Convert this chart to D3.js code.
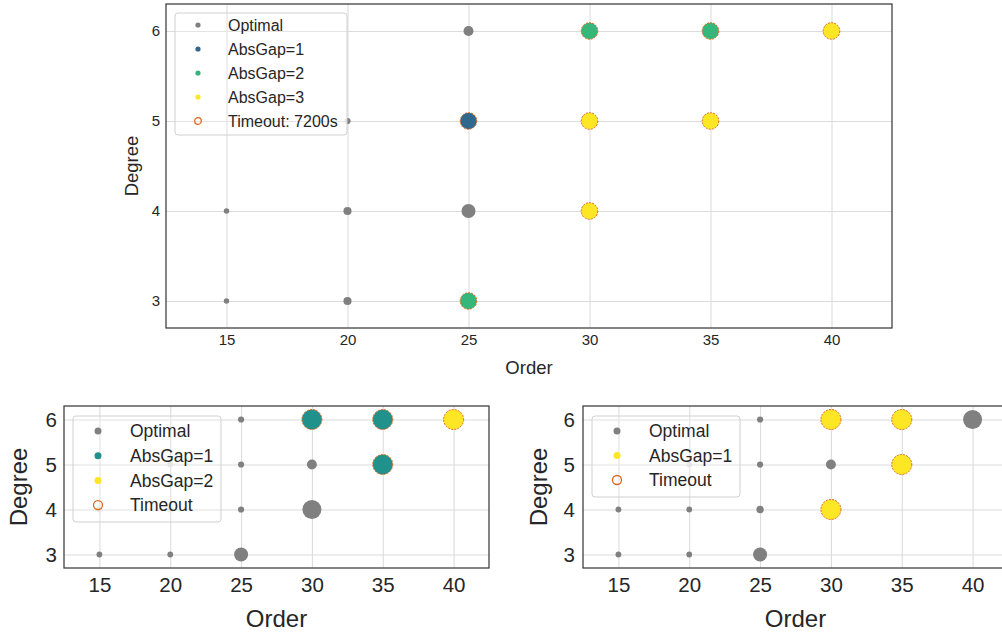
<!DOCTYPE html>
<html>
<head>
<meta charset="utf-8">
<script src="https://cdn.jsdelivr.net/npm/d3@7"></script>
<style>
  body { margin: 0; background: #fff; }
  svg { display: block; font-family: "Liberation Sans", Arial, sans-serif; }
</style>
</head>
<body>
<script>
// shared tick values
var orders = [15, 20, 25, 30, 35, 40];
var degrees = [3, 4, 5, 6];

// status: 0 = Optimal, k = AbsGap=k ; timeout: 1 = hit the time limit
// time is the solve time in seconds

// top chart
var topOrder   = [15, 15, 20, 20, 20, 25, 25, 25, 25, 30, 30, 30, 35, 35, 40];
var topDegree  = [3, 4, 3, 4, 5, 3, 4, 5, 6, 4, 5, 6, 5, 6, 6];
var topTime    = [5, 5, 480, 480, 60, 7200, 4300, 7200, 1300, 7200, 7200, 7200, 7200, 7200, 7200];
var topStatus  = [0, 0, 0, 0, 0, 2, 0, 1, 0, 3, 3, 2, 3, 2, 3];
var topTimeout = [0, 0, 0, 0, 0, 1, 0, 1, 0, 1, 1, 1, 1, 1, 1];
var topLabels  = ['Optimal', 'AbsGap=1', 'AbsGap=2', 'AbsGap=3', 'Timeout: 7200s'];

// bottom left chart
var leftOrder   = [15, 15, 20, 20, 20, 25, 25, 25, 25, 30, 30, 30, 35, 35, 40];
var leftDegree  = [3, 4, 3, 4, 5, 3, 4, 5, 6, 4, 5, 6, 5, 6, 6];
var leftTime    = [5, 5, 5, 5, 5, 2500, 20, 20, 20, 6250, 700, 7200, 7200, 7200, 7200];
var leftStatus  = [0, 0, 0, 0, 0, 0, 0, 0, 0, 0, 0, 1, 1, 1, 2];
var leftTimeout = [0, 0, 0, 0, 0, 0, 0, 0, 0, 0, 0, 1, 1, 1, 1];
var leftLabels  = ['Optimal', 'AbsGap=1', 'AbsGap=2', 'Timeout'];

// bottom right chart
var rightOrder   = [15, 15, 20, 20, 20, 25, 25, 25, 25, 30, 30, 30, 35, 35, 40];
var rightDegree  = [3, 4, 3, 4, 5, 3, 4, 5, 6, 4, 5, 6, 5, 6, 6];
var rightTime    = [5, 5, 5, 5, 5, 2500, 135, 20, 20, 7200, 700, 7200, 7200, 7200, 6250];
var rightStatus  = [0, 0, 0, 0, 0, 0, 0, 0, 0, 1, 0, 1, 1, 1, 0];
var rightTimeout = [0, 0, 0, 0, 0, 0, 0, 0, 0, 1, 0, 1, 1, 1, 0];
var rightLabels  = ['Optimal', 'AbsGap=1', 'Timeout'];

var optimalColor = '#808080';
var timeoutColor = '#e0651a';
var gridColor = '#dcdcdc';

var panels = [
	{
		order: topOrder, degree: topDegree, time: topTime, status: topStatus, timeout: topTimeout,
		labels: topLabels, colors: [optimalColor, '#31688e', '#35b779', '#fde725'],
		left: 166, top: 4, width: 726, height: 324,
		rRange: [2.6, 8.3],
		tickFont: 15, labelFont: 18.5, xTickPad: 6, yTickPad: 6,
		xLabelY: 373.5, yLabelX: 138,
		legend: { x: 175, y: 13, w: 172, h: 122, row0: 25, step: 24, mx: 198, tx: 228, font: 16, r: 2.6, hr: 3.3 }
	},
	{
		order: leftOrder, degree: leftDegree, time: leftTime, status: leftStatus, timeout: leftTimeout,
		labels: leftLabels, colors: [optimalColor, '#21918c', '#fde725'],
		left: 64, top: 406, width: 425, height: 162,
		rRange: [2.7, 10],
		tickFont: 20.5, labelFont: 24, xTickPad: 9.5, yTickPad: 7,
		xLabelY: 627, yLabelX: 27,
		legend: { x: 73, y: 416, w: 148, h: 106, row0: 431, step: 24.7, mx: 98, tx: 130, font: 17.5, r: 3.5, hr: 4.5 }
	},
	{
		order: rightOrder, degree: rightDegree, time: rightTime, status: rightStatus, timeout: rightTimeout,
		labels: rightLabels, colors: [optimalColor, '#fde725'],
		left: 583, top: 406, width: 425, height: 162,
		rRange: [2.7, 10],
		tickFont: 20.5, labelFont: 24, xTickPad: 9.5, yTickPad: 8,
		xLabelY: 627, yLabelX: 547,
		legend: { x: 592, y: 416, w: 148, h: 81, row0: 431, step: 24.5, mx: 617, tx: 649, font: 17.5, r: 3.5, hr: 4.5 }
	}
];

var svg = d3.select('body').append('svg')
	.attr('width', 1002)
	.attr('height', 633);

var defs = svg.append('defs');

panels.forEach(function(p, i) {
	drawPanel(svg, p, i);
});

function drawGrid(g, p, x, y, color) {
	g.append('g')
		.attr('transform', 'translate(0,' + (p.top + p.height) + ')')
		.call(d3.axisBottom(x).tickValues(orders).tickSize(-p.height).tickFormat(''))
		.call(function(s) {
			s.select('.domain').remove();
			s.selectAll('line').attr('stroke', color).attr('stroke-width', 1.1);
		});
	g.append('g')
		.attr('transform', 'translate(' + p.left + ',0)')
		.call(d3.axisLeft(y).tickValues(degrees).tickSize(-p.width).tickFormat(''))
		.call(function(s) {
			s.select('.domain').remove();
			s.selectAll('line').attr('stroke', color).attr('stroke-width', 1.1);
		});
}

function drawPanel(svg, p, idx) {
	var x = d3.scaleLinear().domain([12.5, 42.5]).range([p.left, p.left + p.width]);
	var y = d3.scaleLinear().domain([2.7, 6.3]).range([p.top + p.height, p.top]);
	var r = d3.scaleSqrt().domain([0, 7200]).range(p.rRange);

	var g = svg.append('g');

	drawGrid(g, p, x, y, gridColor);

	// tick labels
	g.append('g')
		.attr('transform', 'translate(0,' + (p.top + p.height) + ')')
		.call(d3.axisBottom(x).tickValues(orders).tickSize(0).tickPadding(p.xTickPad).tickFormat(d3.format('d')))
		.call(function(s) {
			s.select('.domain').remove();
			s.selectAll('text').attr('font-size', p.tickFont).attr('fill', '#262626')
				.attr('font-family', '"Liberation Sans", Arial, sans-serif');
		});
	g.append('g')
		.attr('transform', 'translate(' + p.left + ',0)')
		.call(d3.axisLeft(y).tickValues(degrees).tickSize(0).tickPadding(p.yTickPad).tickFormat(d3.format('d')))
		.call(function(s) {
			s.select('.domain').remove();
			s.selectAll('text').attr('font-size', p.tickFont).attr('fill', '#262626')
				.attr('font-family', '"Liberation Sans", Arial, sans-serif');
		});

	// axis titles
	g.append('text')
		.attr('x', (x.range()[0] + x.range()[1]) / 2)
		.attr('y', p.xLabelY)
		.attr('text-anchor', 'middle')
		.attr('font-size', p.labelFont)
		.attr('fill', '#262626')
		.text('Order');
	g.append('text')
		.attr('transform', 'translate(' + p.yLabelX + ',' + (p.top + p.height / 2) + ') rotate(-90)')
		.attr('text-anchor', 'middle')
		.attr('font-size', p.labelFont)
		.attr('fill', '#262626')
		.text('Degree');

	// points
	var pts = p.order.map(function(o, i) {
		return { order: o, degree: p.degree[i], time: p.time[i], status: p.status[i], timeout: p.timeout[i] };
	});
	g.append('g').selectAll('circle')
		.data(pts)
		.join('circle')
		.attr('cx', function(d) { return x(d.order); })
		.attr('cy', function(d) { return y(d.degree); })
		.attr('r', function(d) { return r(d.time); })
		.attr('fill', function(d) { return p.colors[d.status]; })
		.attr('stroke', function(d) { return d.timeout ? timeoutColor : 'none'; })
		.attr('stroke-width', 1)
		.attr('stroke-dasharray', function(d) { return d.timeout ? '2,1.2' : null; });

	// legend
	var L = p.legend;
	var lg = g.append('g');
	lg.append('rect')
		.attr('x', L.x).attr('y', L.y)
		.attr('width', L.w).attr('height', L.h)
		.attr('rx', 3)
		.attr('fill', '#fff').attr('fill-opacity', 0.82);

	// grid shows through the legend box
	var clipId = 'legend-clip-' + idx;
	defs.append('clipPath').attr('id', clipId)
		.append('rect')
		.attr('x', L.x).attr('y', L.y)
		.attr('width', L.w).attr('height', L.h);
	drawGrid(lg.append('g').attr('clip-path', 'url(#' + clipId + ')'), p, x, y, '#e4e4e4');

	lg.append('rect')
		.attr('x', L.x).attr('y', L.y)
		.attr('width', L.w).attr('height', L.h)
		.attr('rx', 3)
		.attr('fill', 'none')
		.attr('stroke', '#d0d0d0').attr('stroke-width', 1);

	var rows = lg.selectAll('g.row')
		.data(p.labels)
		.join('g')
		.attr('class', 'row')
		.attr('transform', function(d, i) { return 'translate(0,' + (L.row0 + i * L.step) + ')'; });

	rows.append('circle')
		.attr('cx', L.mx)
		.attr('r', function(d, i) { return i < p.colors.length ? L.r : L.hr; })
		.attr('fill', function(d, i) { return i < p.colors.length ? p.colors[i] : 'none'; })
		.attr('stroke', function(d, i) { return i < p.colors.length ? 'none' : timeoutColor; })
		.attr('stroke-width', 1.3);

	rows.append('text')
		.attr('x', L.tx)
		.attr('dy', '0.35em')
		.attr('font-size', L.font)
		.attr('fill', '#262626')
		.text(function(d) { return d; });

	// frame
	g.append('rect')
		.attr('x', p.left).attr('y', p.top)
		.attr('width', p.width).attr('height', p.height)
		.attr('fill', 'none')
		.attr('stroke', '#3a3a3a')
		.attr('stroke-width', 1.25);
}
</script>
</body>
</html>
